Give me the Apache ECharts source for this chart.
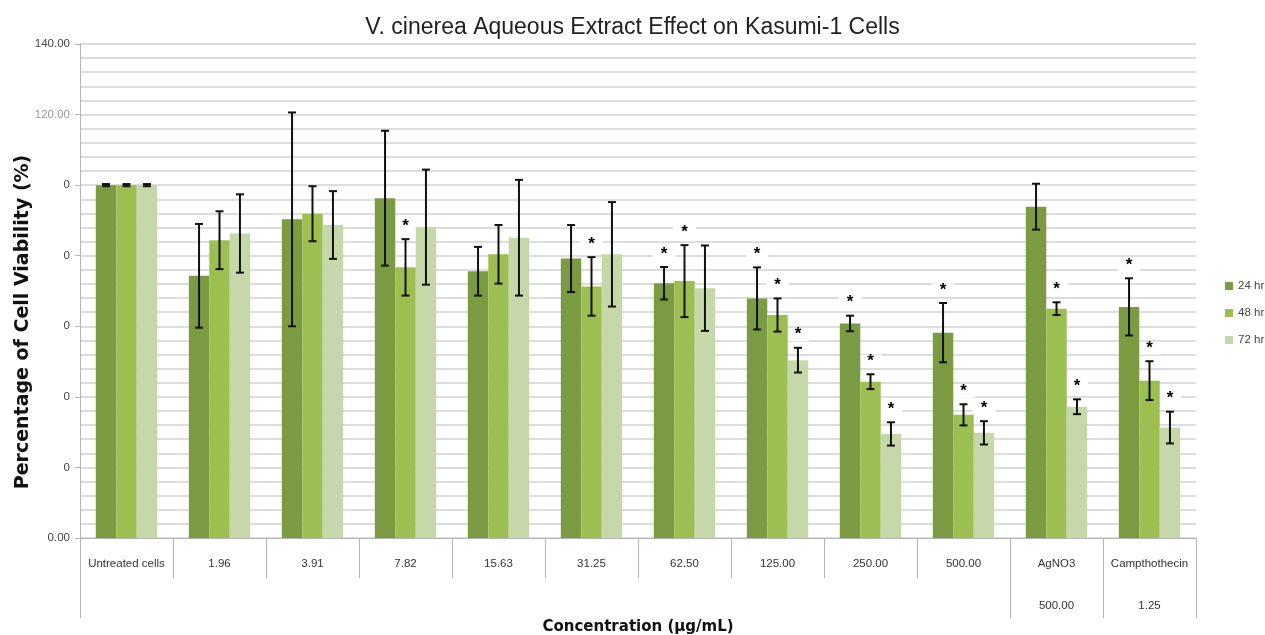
<!DOCTYPE html>
<html>
<head>
<meta charset="utf-8">
<script src="https://cdn.jsdelivr.net/npm/echarts@6/dist/echarts.min.js"></script>
<style>
  html, body { margin: 0; padding: 0; background: #fff; }
  #chart { width: 1265px; height: 635px; }
</style>
</head>
<body>
<div id="chart"></div>
<script>
// categories (first label row) and second label row
const categories = ['Untreated cells', '1.96', '3.91', '7.82', '15.63', '31.25', '62.50', '125.00', '250.00', '500.00', 'AgNO3', 'Campthothecin']
const subLabels = ['', '', '', '', '', '', '', '', '', '', '500.00', '1.25']

const seriesNames = ['24 hr', '48 hr', '72 hr']

// means
const v24 = [100, 74.3, 90.3, 96.3, 75.6, 79.2, 72.2, 67.9, 60.8, 58.2, 93.9, 65.5]
const v48 = [100, 84.4, 91.9, 76.7, 80.4, 71.3, 72.8, 63.2, 44.3, 34.9, 65.0, 44.6]
const v72 = [100, 86.3, 88.7, 88.1, 85.1, 80.4, 70.8, 50.4, 29.5, 29.8, 37.2, 31.3]

// error (+/-)
const e24 = [0.3, 14.7, 30.3, 19.1, 6.9, 9.5, 4.6, 8.8, 2.2, 8.4, 6.5, 8.1]
const e48 = [0.3, 8.2, 7.8, 8.0, 8.3, 8.3, 10.2, 4.7, 2.1, 3.0, 1.8, 5.5]
const e72 = [0.3, 11.1, 9.6, 16.3, 16.4, 14.8, 12.1, 3.5, 3.3, 3.3, 2.1, 4.5]

// significance marks (*)
const sig24 = [0, 0, 0, 0, 0, 0, 1, 1, 1, 1, 0, 1]
const sig48 = [0, 0, 0, 1, 0, 1, 1, 1, 1, 1, 1, 1]
const sig72 = [0, 0, 0, 0, 0, 0, 0, 1, 1, 1, 1, 1]

const colors = ['#7b9b42', '#9dbf52', '#c6d7aa']
const means = [v24, v48, v72]
const errs = [e24, e48, e72]
const sigs = [sig24, sig48, sig72]

const BAR_FRAC = 0.22 // each bar as share of category width (barCategoryGap 34%)

const chart = echarts.init(document.getElementById('chart'))

// 误差线
const errorSeries = (k) => ({
  type: 'custom',
  name: 'err' + k,
  z: 4,
  data: categories.map((c, i) => [i, means[k][i] - errs[k][i], means[k][i] + errs[k][i]]),
  renderItem: (params, api) => {
    const band = api.size([1, 0])[0]
    const dx = (k - 1) * band * BAR_FRAC
    const lo = api.coord([api.value(0), api.value(1)])
    const hi = api.coord([api.value(0), api.value(2)])
    const x = lo[0] + dx
    const cap = 4
    const style = { stroke: '#111', lineWidth: 2 }
    return {
      type: 'group',
      children: [
        { type: 'line', shape: { x1: x, y1: lo[1], x2: x, y2: hi[1] }, style },
        { type: 'line', shape: { x1: x - cap, y1: hi[1], x2: x + cap, y2: hi[1] }, style },
        { type: 'line', shape: { x1: x - cap, y1: lo[1], x2: x + cap, y2: lo[1] }, style }
      ]
    }
  }
})

// 显著性星号
const starSeries = (k) => ({
  type: 'custom',
  name: 'sig' + k,
  z: 1,
  data: categories.map((c, i) => [i, means[k][i] + errs[k][i], sigs[k][i]]).filter(d => d[2]),
  renderItem: (params, api) => {
    const band = api.size([1, 0])[0]
    const dx = (k - 1) * band * BAR_FRAC
    const p = api.coord([api.value(0), api.value(1)])
    return {
      type: 'text',
      x: p[0] + dx,
      y: p[1] - 13,
      style: {
        text: '*',
        fill: '#000',
        font: 'bold 17px "Liberation Sans"',
        align: 'center',
        verticalAlign: 'middle',
        backgroundColor: '#fff',
        padding: [0, 8, -4, 8]
      }
    }
  }
})

const barSeries = seriesNames.map((name, k) => ({
  name,
  type: 'bar',
  z: 2,
  data: means[k],
  barGap: '0%',
  barCategoryGap: '34%',
  itemStyle: { color: colors[k] }
}))

chart.setOption({
  animation: false,
  backgroundColor: '#fff',
  title: {
    text: 'V. cinerea Aqueous Extract Effect on Kasumi-1 Cells',
    left: 'center',
    top: 11,
    textStyle: { fontFamily: 'Liberation Sans', fontSize: 23, fontWeight: 'normal', color: '#222' }
  },
  legend: {
    data: seriesNames,
    orient: 'vertical',
    left: 1220,
    top: 275,
    itemWidth: 8,
    itemHeight: 8,
    itemGap: 15,
    icon: 'rect',
    textStyle: { fontFamily: 'Liberation Sans', fontSize: 11.5, color: '#444' }
  },
  grid: { left: 80, right: 69, top: 44, bottom: 97, outerBoundsMode: 'none', containLabel: false },
  xAxis: [
    {
      type: 'category',
      data: categories,
      name: 'Concentration (µg/mL)',
      nameLocation: 'middle',
      nameGap: 82,
      nameTextStyle: { fontFamily: 'DejaVu Sans', fontSize: 15, fontWeight: 'bold', color: '#111' },
      axisLine: { lineStyle: { color: '#b5b5b5', width: 1 } },
      axisTick: { show: true, length: 40, interval: 0, lineStyle: { color: '#b5b5b5' } },
      axisLabel: { interval: 0, margin: 20, fontFamily: 'Liberation Sans', fontSize: 11.5, color: '#333' }
    },
    {
      type: 'category',
      data: categories,
      position: 'bottom',
      axisLine: { show: false },
      axisTick: { show: false },
      axisLabel: {
        interval: 0,
        margin: 62,
        fontFamily: 'Liberation Sans',
        fontSize: 11.5,
        color: '#333',
        formatter: (v, i) => subLabels[i]
      }
    }
  ],
  yAxis: {
    type: 'value',
    min: 0,
    max: 140,
    interval: 20,
    name: 'Percentage of Cell Viability (%)',
    nameLocation: 'middle',
    nameGap: 47,
    nameRotate: 90,
    nameMoveOverlap: false,
    nameTextStyle: { fontFamily: 'DejaVu Sans', fontSize: 19, fontWeight: 'bold', color: '#111', padding: [0, 62, 0, 0] },
    axisLine: { show: true, lineStyle: { color: '#b5b5b5' } },
    axisTick: { show: true, length: 5, lineStyle: { color: '#b5b5b5' } },
    axisLabel: {
      fontFamily: 'Liberation Sans',
      fontSize: 11.5,
      color: '#444',
      margin: 10,
      formatter: (v) => {
        if (v === 0) return '0.00'
        if (v === 140) return '140.00'
        if (v === 120) return '{faint|120.00}'
        return '0'
      },
      rich: { faint: { color: '#9a9a9a', fontSize: 11.5, fontFamily: 'Liberation Sans' } }
    },
    splitLine: { show: true, lineStyle: { color: '#d2d2d2', width: 1.5 } },
    minorTick: { show: false, splitNumber: 5 },
    minorSplitLine: { show: true, lineStyle: { color: '#d2d2d2', width: 1.5 } }
  },
  series: [
    ...barSeries,
    ...[0, 1, 2].map(errorSeries),
    ...[0, 1, 2].map(starSeries)
  ]
})

// 长的分隔线（标签表格）
const drawTableLines = () => {
  const c0 = chart.convertToPixel({ xAxisIndex: 0 }, 0)
  const c1 = chart.convertToPixel({ xAxisIndex: 0 }, 1)
  const band = c1 - c0
  const y0 = chart.convertToPixel({ yAxisIndex: 0 }, 0)
  const xs = [0, 10, 11, 12].map(i => c0 - band / 2 + i * band)
  chart.setOption({
    graphic: xs.map(x => ({
      type: 'line',
      shape: { x1: Math.round(x) + 0.5, y1: y0, x2: Math.round(x) + 0.5, y2: y0 + 80 },
      style: { stroke: '#b5b5b5', lineWidth: 1 },
      silent: true
    }))
  })
}
drawTableLines()
</script>
</body>
</html>
